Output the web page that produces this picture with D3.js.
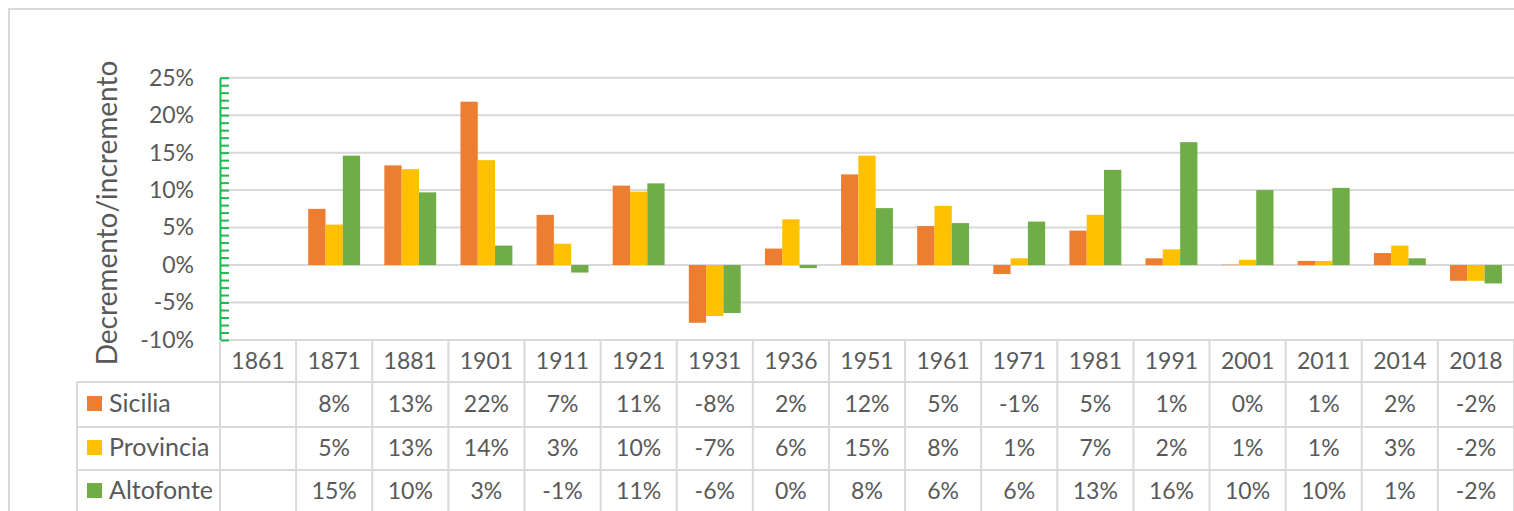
<!DOCTYPE html>
<html>
<head>
<meta charset="utf-8">
<script src="https://cdn.jsdelivr.net/npm/d3@7"></script>
<style>
body { margin: 0; background: #fff; }
svg { display: block; font-family: Lato, "Noto Sans", sans-serif; }
</style>
</head>
<body>
<svg></svg>
<script>
// data (percent change)
var years = ['1861', '1871', '1881', '1901', '1911', '1921', '1931', '1936', '1951',
  '1961', '1971', '1981', '1991', '2001', '2011', '2014', '2018'];
var seriesNames = ['Sicilia', 'Provincia', 'Altofonte'];
var sicilia = [null, 7.5, 13.3, 21.8, 6.7, 10.6, -7.7, 2.2, 12.1, 5.2, -1.2, 4.6, 0.9, 0.05, 0.55, 1.6, -2.1];
var provincia = [null, 5.4, 12.8, 14.0, 2.85, 9.8, -6.8, 6.1, 14.6, 7.9, 0.9, 6.7, 2.1, 0.7, 0.55, 2.6, -2.1];
var altofonte = [null, 14.6, 9.7, 2.6, -1.0, 10.9, -6.4, -0.4, 7.6, 5.6, 5.8, 12.7, 16.4, 10.0, 10.3, 0.9, -2.45];
var yTicks = [-10, -5, 0, 5, 10, 15, 20, 25];
var colors = ['#ED7D31', '#FFC000', '#70AD47'];

var allSeries = [sicilia, provincia, altofonte];

var svgWidth = 1514, svgHeight = 511;
var plotLeft = 220, plotRight = 1514, plotTop = 77.7, plotBottom = 340;
var rowLines = [340, 382, 427, 470, 513];
var textColor = '#595959', gridColor = '#d9d9d9';

var svg = d3.select('svg')
.attr('width', svgWidth)
.attr('height', svgHeight);

// outer frame
svg.append('rect')
.attr('x', 9).attr('y', 9)
.attr('width', svgWidth + 10).attr('height', svgHeight + 10)
.attr('fill', 'none')
.attr('stroke', gridColor)
.attr('stroke-width', 2);

var x0 = d3.scaleBand()
.domain(years)
.range([plotLeft, plotRight]);

var x1 = d3.scaleBand()
.domain(seriesNames)
.range([0, x0.bandwidth()])
.paddingOuter(0.7);

var yScale = d3.scaleLinear()
.domain([-10, 25])
.range([plotBottom, plotTop]);

// gridlines
svg.append('g')
.selectAll('line')
.data(yTicks)
.enter()
.append('line')
.attr('x1', plotLeft).attr('x2', plotRight)
.attr('y1', function(d){ return yScale(d); })
.attr('y2', function(d){ return yScale(d); })
.attr('stroke', gridColor)
.attr('stroke-width', 2);

// y tick labels
var y_axis = d3.axisLeft(yScale)
.tickValues(yTicks)
.tickSize(0)
.tickPadding(0)
.tickFormat(function(d){ return d + '%'; });

var yLabels = svg.append('g')
.attr('transform', 'translate(194, 0)')
.call(y_axis);
yLabels.select('.domain').remove();
yLabels.selectAll('text')
.attr('fill', textColor)
.style('font-size', '23px')
.style('font-family', 'Lato, sans-serif');

// bars
var groups = svg.append('g')
.selectAll('g')
.data(years)
.enter()
.append('g')
.attr('transform', function(d){ return 'translate(' + x0(d) + ',0)'; });

groups.selectAll('rect')
.data(function(d, i){
  return allSeries.map(function(s, k){ return {name: seriesNames[k], value: s[i], k: k}; })
    .filter(function(e){ return e.value !== null; });
})
.enter()
.append('rect')
.attr('x', function(d){ return x1(d.name); })
.attr('width', x1.bandwidth())
.attr('y', function(d){ return yScale(Math.max(0, d.value)); })
.attr('height', function(d){ return Math.abs(yScale(d.value) - yScale(0)); })
.attr('fill', function(d){ return colors[d.k]; });

// green y axis with minor ticks
var green_axis = d3.axisRight(yScale)
.tickValues(d3.range(-10, 26))
.tickSize(9)
.tickSizeOuter(0)
.tickFormat('');

var gAxis = svg.append('g')
.attr('transform', 'translate(' + plotLeft + ', 0)')
.call(green_axis);
gAxis.selectAll('path, line')
.attr('stroke', '#1DB954')
.attr('stroke-width', 2);

// axis title
svg.append('text')
.attr('transform', 'translate(117, 213) rotate(-90)')
.attr('text-anchor', 'middle')
.attr('fill', textColor)
.style('font-size', '28px')
.text('Decremento/incremento');

// data table
var table = svg.append('g');
var colEdges = years.map(function(d){ return x0(d); }).concat([plotRight]);

table.selectAll('.vline')
.data(colEdges)
.enter()
.append('line')
.attr('x1', function(d){ return d; })
.attr('x2', function(d){ return d; })
.attr('y1', plotBottom)
.attr('y2', svgHeight + 5)
.attr('stroke', gridColor)
.attr('stroke-width', 2);

table.append('line')
.attr('x1', 77).attr('x2', 77)
.attr('y1', rowLines[1]).attr('y2', svgHeight + 5)
.attr('stroke', gridColor).attr('stroke-width', 2);

table.selectAll('.hline')
.data(rowLines.slice(1))
.enter()
.append('line')
.attr('x1', 77).attr('x2', plotRight)
.attr('y1', function(d){ return d; })
.attr('y2', function(d){ return d; })
.attr('stroke', gridColor)
.attr('stroke-width', 2);

// header years
table.selectAll('.year')
.data(years)
.enter()
.append('text')
.attr('x', function(d){ return x0(d) + x0.bandwidth() / 2; })
.attr('y', (rowLines[0] + rowLines[1]) / 2 + 8)
.attr('text-anchor', 'middle')
.attr('fill', textColor)
.style('font-size', '23px')
.text(function(d){ return d; });

// series rows
allSeries.forEach(function(s, k){
  var top = rowLines[k + 1], bottom = rowLines[k + 2];
  var mid = (top + bottom) / 2 - 1;

  table.append('rect')
  .attr('x', 87).attr('y', mid - 7.5)
  .attr('width', 15).attr('height', 15)
  .attr('fill', colors[k]);

  table.append('text')
  .attr('x', 109).attr('y', mid + 8)
  .attr('fill', textColor)
  .style('font-size', '25px')
  .text(seriesNames[k]);

  table.selectAll('.val' + k)
  .data(years)
  .enter()
  .append('text')
  .attr('x', function(d){ return x0(d) + x0.bandwidth() / 2; })
  .attr('y', mid + 8)
  .attr('text-anchor', 'middle')
  .attr('fill', textColor)
  .style('font-size', '23px')
  .text(function(d, i){ return s[i] === null ? '' : Math.round(s[i]) + '%'; });
});
</script>
</body>
</html>
